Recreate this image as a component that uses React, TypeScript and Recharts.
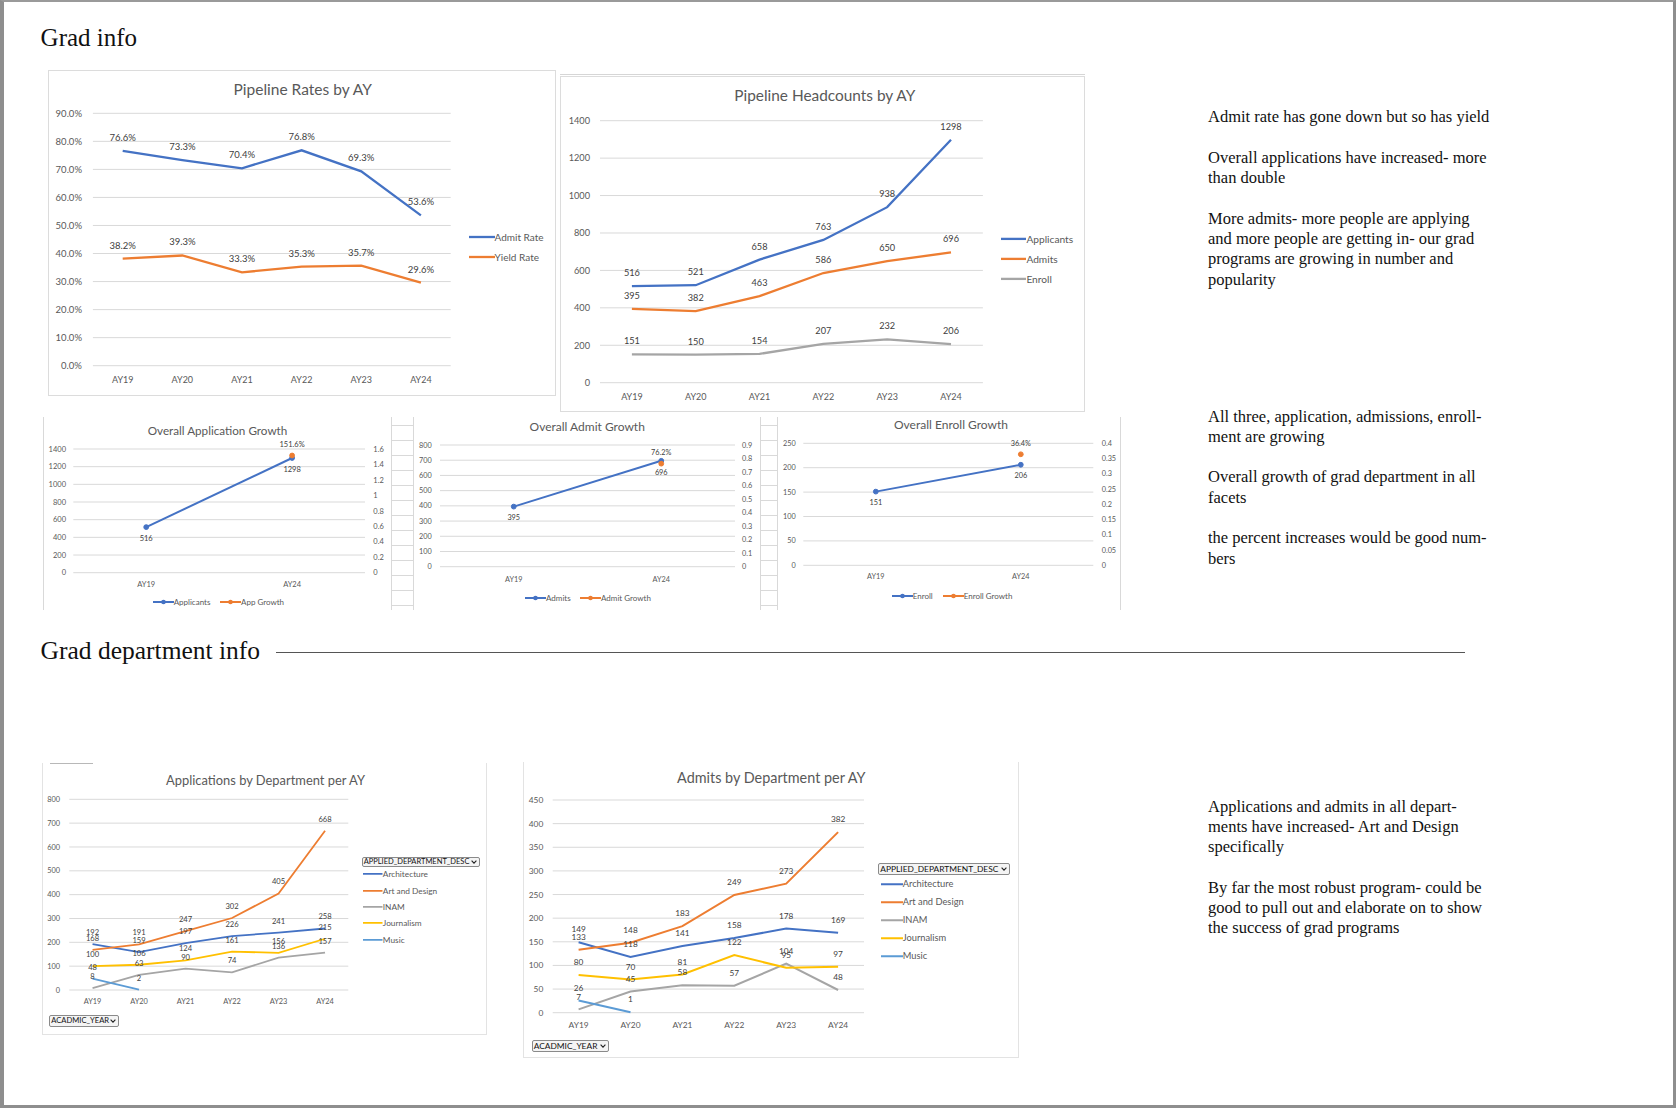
import React from "react";
import { CartesianGrid, LabelList, Line, LineChart, XAxis, YAxis } from "recharts";

const YEARS = ["AY19", "AY20", "AY21", "AY22", "AY23", "AY24"];

// pipeline rates, percent
const ADMIT_RATE = [76.6, 73.3, 70.4, 76.8, 69.3, 53.6];
const YIELD_RATE = [38.2, 39.3, 33.3, 35.3, 35.7, 29.6];
const RATE_TICKS = [0, 10, 20, 30, 40, 50, 60, 70, 80, 90];

// pipeline headcounts
const APPLICANTS = [516, 521, 658, 763, 938, 1298];
const ADMITS = [395, 382, 463, 586, 650, 696];
const ENROLL = [151, 150, 154, 207, 232, 206];
const HEADCOUNT_TICKS = [0, 200, 400, 600, 800, 1000, 1200, 1400];

// AY19 -> AY24 growth
const GROWTH_YEARS = ["AY19", "AY24"];
const APP_ENDS = [516, 1298];
const APP_GROWTH = [null, 1.516];
const APP_TICKS = [0, 200, 400, 600, 800, 1000, 1200, 1400];
const APP_GROWTH_TICKS = [0, 0.2, 0.4, 0.6, 0.8, 1, 1.2, 1.4, 1.6];
const ADMIT_ENDS = [395, 696];
const ADMIT_GROWTH = [null, 0.762];
const ADMIT_TICKS = [0, 100, 200, 300, 400, 500, 600, 700, 800];
const ADMIT_GROWTH_TICKS = [0, 0.1, 0.2, 0.3, 0.4, 0.5, 0.6, 0.7, 0.8, 0.9];
const ENROLL_ENDS = [151, 206];
const ENROLL_GROWTH = [null, 0.364];
const ENROLL_TICKS = [0, 50, 100, 150, 200, 250];
const ENROLL_GROWTH_TICKS = [0, 0.05, 0.1, 0.15, 0.2, 0.25, 0.3, 0.35, 0.4];

// by department
const DEPARTMENTS = ["Architecture", "Art and Design", "INAM", "Journalism", "Music"];
const APPS_ARCH = [192, 159, 197, 226, 241, 258];
const APPS_ART = [168, 191, 247, 302, 405, 668];
const APPS_INAM = [8, 63, 90, 74, 136, 157];
const APPS_JOURN = [100, 106, 124, 161, 156, 215];
const APPS_MUSIC = [48, 2, null, null, null, null];
const APPS_TICKS = [0, 100, 200, 300, 400, 500, 600, 700, 800];
const ADM_ARCH = [149, 118, 141, 158, 178, 169];
const ADM_ART = [133, 148, 183, 249, 273, 382];
const ADM_INAM = [7, 45, 58, 57, 104, 48];
const ADM_JOURN = [80, 70, 81, 122, 95, 97];
const ADM_MUSIC = [26, 1, null, null, null, null];
const ADM_TICKS = [0, 50, 100, 150, 200, 250, 300, 350, 400, 450];

const NOTES_TOP = [
  ["Admit rate has gone down but so has yield"],
  ["Overall applications have increased- more", "than double"],
  ["More admits- more people are applying", "and more people are getting in- our grad", "programs are growing in number and", "popularity"],
];
const NOTES_MID = [
  ["All three, application, admissions, enroll-", "ment are growing"],
  ["Overall growth of grad department in all", "facets"],
  ["the percent increases would be good num-", "bers"],
];
const NOTES_BOTTOM = [
  ["Applications and admits in all depart-", "ments have increased- Art and Design", "specifically"],
  ["By far the most robust program- could be", "good to pull out and elaborate on to show", "the success of grad programs"],
];

const SANS = "Lato, 'Open Sans', sans-serif";
const SERIF = "'Liberation Serif', 'DejaVu Serif', serif";
const TICK_FILL = "#595959";
const LABEL_FILL = "#404040";
const GRID = "#d9d9d9";
const BLUE = "#4472C4";
const ORANGE = "#ED7D31";
const GRAY = "#A5A5A5";
const GOLD = "#FFC000";
const LIGHT_BLUE = "#5B9BD5";
const DEPT_COLORS = [BLUE, ORANGE, GRAY, GOLD, LIGHT_BLUE];

const pct1 = (v: number) => `${v.toFixed(1)}%`;
const pctOf = (v: number) => `${(v * 100).toFixed(1)}%`;

function Title({ x, y, size, text }: any) {
  return (
    <div style={{ position: "absolute", left: x, top: y, transform: "translate(-50%, -50%)", fontFamily: SANS, fontSize: size, color: "#595959", whiteSpace: "nowrap", lineHeight: 1 }}>
      {text}
    </div>
  );
}

function LegendRow({ x, y, color, label, len, thick, size, dot }: any) {
  return (
    <div style={{ position: "absolute", left: x, top: y, transform: "translateY(-50%)", display: "flex", alignItems: "center", fontFamily: SANS, fontSize: size, color: "#595959", whiteSpace: "nowrap", lineHeight: 1 }}>
      <svg width={len} height={8} style={{ display: "block", flex: "none" }}>
        <line x1={0} x2={len} y1={4} y2={4} stroke={color} strokeWidth={thick} />
        {dot ? <circle cx={len / 2} cy={4} r={2.3} fill={color} /> : null}
      </svg>
      <span>{label}</span>
    </div>
  );
}

function Dropdown({ x, y, w, h, size, label }: any) {
  return (
    <div style={{ position: "absolute", left: x, top: y, width: w, height: h, boxSizing: "border-box", border: "1px solid #8a8a8a", borderRadius: 2, background: "#f4f4f4", display: "flex", alignItems: "center", justifyContent: "space-between", padding: "0 2px 0 1px", fontFamily: SANS, fontSize: size, color: "#111", lineHeight: 1, whiteSpace: "nowrap", overflow: "hidden" }}>
      <span>{label}</span>
      <svg width={6} height={4} style={{ flex: "none" }}>
        <path d="M0.6 0.6 L3 3.2 L5.4 0.6" fill="none" stroke="#222" strokeWidth={1.1} />
      </svg>
    </div>
  );
}

function Rule({ x, y, w, h, color }: any) {
  return <div style={{ position: "absolute", left: x, top: y, width: w, height: h, background: color }} />;
}

function Notes({ top, paras }: any) {
  return (
    <div style={{ position: "absolute", left: 1208, top, fontFamily: SERIF, fontSize: 16.5, lineHeight: "20.3px", color: "#111", whiteSpace: "nowrap" }}>
      {paras.map((lines: string[], i: number) => (
        <div key={i} style={{ marginBottom: 20.3 }}>
          {lines.map((l, k) => (
            <div key={k}>{l}</div>
          ))}
        </div>
      ))}
    </div>
  );
}

function RatesChart() {
  const data = YEARS.map((year, i) => ({ year, admit: ADMIT_RATE[i], yld: YIELD_RATE[i] }));
  return (
    <div style={{ position: "absolute", left: 48, top: 70, fontFamily: SANS }}>
      <LineChart width={508} height={326} data={data} margin={{ top: 43.3, right: 105.3, bottom: 0.3, left: 4.9 }}>
        <CartesianGrid vertical={false} stroke={GRID} />
        <XAxis dataKey="year" interval={0} axisLine={false} tickLine={false} tickSize={0} tickMargin={10.7} height={30} padding={{ left: 29.8, right: 29.8 }} tick={{ fontSize: 9, fill: TICK_FILL }} />
        <YAxis type="number" domain={[0, 90]} ticks={RATE_TICKS} interval={0} tickFormatter={pct1} axisLine={false} tickLine={false} tickSize={0} tickMargin={10.9} width={40} tick={{ fontSize: 9.5, fill: TICK_FILL }} />
        <Line dataKey="admit" stroke={BLUE} strokeWidth={2.3} dot={false} isAnimationActive={false}>
          <LabelList dataKey="admit" position="top" offset={10} formatter={pct1} fontSize={9.5} fill={LABEL_FILL} />
        </Line>
        <Line dataKey="yld" stroke={ORANGE} strokeWidth={2.3} dot={false} isAnimationActive={false}>
          <LabelList dataKey="yld" position="top" offset={10} formatter={pct1} fontSize={9.5} fill={LABEL_FILL} />
        </Line>
      </LineChart>
    </div>
  );
}

function HeadcountChart() {
  const data = YEARS.map((year, i) => ({ year, apps: APPLICANTS[i], admits: ADMITS[i], enroll: ENROLL[i] }));
  const series = [
    ["apps", BLUE],
    ["admits", ORANGE],
    ["enroll", GRAY],
  ];
  return (
    <div style={{ position: "absolute", left: 560, top: 76, fontFamily: SANS }}>
      <LineChart width={525} height={336} data={data} margin={{ top: 44.7, right: 102.1, bottom: 4.3, left: 4 }}>
        <CartesianGrid vertical={false} stroke={GRID} />
        <XAxis dataKey="year" interval={0} axisLine={false} tickLine={false} tickSize={0} tickMargin={11.3} height={25} padding={{ left: 31.9, right: 31.9 }} tick={{ fontSize: 9, fill: TICK_FILL }} />
        <YAxis type="number" domain={[0, 1400]} ticks={HEADCOUNT_TICKS} interval={0} axisLine={false} tickLine={false} tickSize={0} tickMargin={10} width={36} tick={{ fontSize: 9.2, fill: TICK_FILL }} />
        {series.map(([key, color]) => (
          <Line key={key} dataKey={key} stroke={color} strokeWidth={2.3} dot={false} isAnimationActive={false}>
            <LabelList dataKey={key} position="top" offset={10} fontSize={9.2} fill={LABEL_FILL} />
          </Line>
        ))}
      </LineChart>
    </div>
  );
}

function GrowthChart({ left, top, width, height, margin, leftW, rightW, leftTM, rightTM, xTM, pad, ends, growth, leftMax, leftTicks, rightMax, rightTicks, size }: any) {
  const data = GROWTH_YEARS.map((year, i) => ({ year, count: ends[i], growth: growth[i] }));
  return (
    <div style={{ position: "absolute", left, top, fontFamily: SANS }}>
      <LineChart width={width} height={height} data={data} margin={margin}>
        <CartesianGrid vertical={false} stroke={GRID} yAxisId="left" />
        <XAxis dataKey="year" interval={0} axisLine={false} tickLine={false} tickSize={0} tickMargin={xTM} height={20} padding={{ left: pad, right: pad }} tick={{ fontSize: size, fill: TICK_FILL }} />
        <YAxis yAxisId="left" type="number" domain={[0, leftMax]} ticks={leftTicks} interval={0} axisLine={false} tickLine={false} tickSize={0} tickMargin={leftTM} width={leftW} tick={{ fontSize: size, fill: TICK_FILL }} />
        <YAxis yAxisId="right" orientation="right" type="number" domain={[0, rightMax]} ticks={rightTicks} interval={0} axisLine={false} tickLine={false} tickSize={0} tickMargin={rightTM} width={rightW} tick={{ fontSize: size, fill: TICK_FILL }} />
        <Line yAxisId="left" dataKey="count" stroke={BLUE} strokeWidth={2} dot={{ r: 2.4, fill: BLUE, stroke: BLUE, strokeWidth: 1 }} isAnimationActive={false}>
          <LabelList dataKey="count" position="bottom" offset={8.5} fontSize={size} fill={LABEL_FILL} />
        </Line>
        <Line yAxisId="right" dataKey="growth" stroke={ORANGE} strokeWidth={2} dot={{ r: 2.4, fill: ORANGE, stroke: ORANGE, strokeWidth: 1 }} isAnimationActive={false}>
          <LabelList dataKey="growth" position="top" offset={8.5} formatter={pctOf} fontSize={size} fill={LABEL_FILL} />
        </Line>
      </LineChart>
    </div>
  );
}

function DeptChart({ left, top, width, height, margin, yW, yTM, xTM, pad, series, max, ticks, size, labelSize, offset, strokeW }: any) {
  const data = YEARS.map((year, i) => {
    const row: any = { year };
    series.forEach((s: any[], k: number) => {
      row["d" + k] = s[i];
    });
    return row;
  });
  return (
    <div style={{ position: "absolute", left, top, fontFamily: SANS }}>
      <LineChart width={width} height={height} data={data} margin={margin}>
        <CartesianGrid vertical={false} stroke={GRID} />
        <XAxis dataKey="year" interval={0} axisLine={false} tickLine={false} tickSize={0} tickMargin={xTM} height={20} padding={{ left: pad, right: pad }} tick={{ fontSize: size, fill: TICK_FILL }} />
        <YAxis type="number" domain={[0, max]} ticks={ticks} interval={0} axisLine={false} tickLine={false} tickSize={0} tickMargin={yTM} width={yW} tick={{ fontSize: size, fill: TICK_FILL }} />
        {series.map((_: any, k: number) => (
          <Line key={k} dataKey={"d" + k} stroke={DEPT_COLORS[k]} strokeWidth={strokeW} dot={false} isAnimationActive={false}>
            <LabelList dataKey={"d" + k} position="top" offset={offset} fontSize={labelSize} fill={LABEL_FILL} />
          </Line>
        ))}
      </LineChart>
    </div>
  );
}

function SheetCells({ x, w }: any) {
  const rows = [];
  for (let y = 425; y <= 606; y += 15) rows.push(y);
  return (
    <>
      <Rule x={x} y={417} w={1} h={193} color={GRID} />
      <Rule x={x + w} y={417} w={1} h={193} color={GRID} />
      {rows.map((y) => (
        <Rule key={y} x={x} y={y} w={w} h={1} color={GRID} />
      ))}
    </>
  );
}

export default function App() {
  return (
    <div style={{ position: "relative", width: 1676, height: 1108, background: "#fff", overflow: "hidden", fontFamily: SANS }}>
      <style>{"body{margin:0}"}</style>

      <div style={{ position: "absolute", left: 40.6, top: 36.7, transform: "translateY(-50%)", fontFamily: SERIF, fontSize: 25, lineHeight: 1, color: "#111", whiteSpace: "nowrap" }}>Grad info</div>
      <div style={{ position: "absolute", left: 40.6, top: 651, transform: "translateY(-50%)", fontFamily: SERIF, fontSize: 25.5, lineHeight: 1, color: "#111", whiteSpace: "nowrap" }}>Grad department info</div>
      <Rule x={276} y={651.5} w={1189} h={1} color="#555" />

      {/* frames */}
      <div style={{ position: "absolute", left: 48, top: 70, width: 508, height: 326, boxSizing: "border-box", border: "1px solid #dcdcdc" }} />
      <div style={{ position: "absolute", left: 560, top: 76, width: 525, height: 336, boxSizing: "border-box", border: "1px solid #dcdcdc" }} />
      <Rule x={560} y={73.5} w={525} h={1} color="#d6d6d6" />
      <Rule x={43} y={417} w={1} h={193} color={GRID} />
      <SheetCells x={390.7} w={22.6} />
      <SheetCells x={759.5} w={17} />
      <Rule x={1120} y={417} w={1} h={193} color={GRID} />
      <div style={{ position: "absolute", left: 42, top: 763, width: 445, height: 272, boxSizing: "border-box", borderLeft: "1px solid #e3e3e3", borderRight: "1px solid #e3e3e3", borderBottom: "1px solid #e3e3e3" }} />
      <Rule x={50} y={763} w={43} h={1} color="#b8b8b8" />
      <div style={{ position: "absolute", left: 523, top: 762, width: 496, height: 296, boxSizing: "border-box", borderLeft: "1px solid #e3e3e3", borderRight: "1px solid #e3e3e3", borderBottom: "1px solid #e3e3e3" }} />

      {/* Pipeline Rates */}
      <RatesChart />
      <Title x={302.7} y={90} size={15.5} text="Pipeline Rates by AY" />
      <LegendRow x={468.6} y={237.3} color={BLUE} label="Admit Rate" len={26} thick={2.3} size={10} />
      <LegendRow x={468.6} y={256.7} color={ORANGE} label="Yield Rate" len={26} thick={2.3} size={10} />

      {/* Pipeline Headcounts */}
      <HeadcountChart />
      <Title x={824.8} y={96} size={15.4} text="Pipeline Headcounts by AY" />
      <LegendRow x={1000.7} y={238.7} color={BLUE} label="Applicants" len={25.7} thick={2.3} size={10.2} />
      <LegendRow x={1000.7} y={258.7} color={ORANGE} label="Admits" len={25.7} thick={2.3} size={10.2} />
      <LegendRow x={1000.7} y={279.3} color={GRAY} label="Enroll" len={25.7} thick={2.3} size={10.2} />

      {/* Overall growth */}
      <GrowthChart left={44} top={417} width={347} height={193} margin={{ top: 32, right: 6, bottom: 17.3, left: 4.3 }} leftW={25} rightW={20} leftTM={7.3} rightTM={8.3} xTM={8.6} pad={72.9} ends={APP_ENDS} growth={APP_GROWTH} leftMax={1400} leftTicks={APP_TICKS} rightMax={1.6} rightTicks={APP_GROWTH_TICKS} size={7.5} />
      <Title x={217.5} y={430.7} size={11.7} text="Overall Application Growth" />
      <LegendRow x={152.7} y={602.3} color={BLUE} label="Applicants" len={21} thick={2} size={8} dot />
      <LegendRow x={220} y={602.3} color={ORANGE} label="App Growth" len={21} thick={2} size={8} dot />

      <GrowthChart left={414} top={417} width={345} height={193} margin={{ top: 28, right: 4, bottom: 23.3, left: 6 }} leftW={20} rightW={20} leftTM={8.3} rightTM={7} xTM={10} pad={73.75} ends={ADMIT_ENDS} growth={ADMIT_GROWTH} leftMax={800} leftTicks={ADMIT_TICKS} rightMax={0.9} rightTicks={ADMIT_GROWTH_TICKS} size={7.3} />
      <Title x={587.2} y={426.7} size={12} text="Overall Admit Growth" />
      <LegendRow x={525} y={597.7} color={BLUE} label="Admits" len={21} thick={2} size={8} dot />
      <LegendRow x={580} y={597.7} color={ORANGE} label="Admit Growth" len={21} thick={2} size={8} dot />

      <GrowthChart left={777} top={417} width={343} height={193} margin={{ top: 26.3, right: 4.7, bottom: 24.7, left: 6.3 }} leftW={20} rightW={22} leftTM={7.6} rightTM={8.4} xTM={8.8} pad={72.5} ends={ENROLL_ENDS} growth={ENROLL_GROWTH} leftMax={250} leftTicks={ENROLL_TICKS} rightMax={0.4} rightTicks={ENROLL_GROWTH_TICKS} size={7.3} />
      <Title x={951} y={425} size={12} text="Overall Enroll Growth" />
      <LegendRow x={891.7} y={595.7} color={BLUE} label="Enroll" len={21} thick={2} size={8} dot />
      <LegendRow x={942.7} y={595.7} color={ORANGE} label="Enroll Growth" len={21} thick={2} size={8} dot />

      {/* Applications by department */}
      <DeptChart left={42} top={763} width={445} height={272} margin={{ top: 36.3, right: 138.7, bottom: 25, left: 5.3 }} yW={22} yTM={9.3} xTM={9} pad={23.25} series={[APPS_ARCH, APPS_ART, APPS_INAM, APPS_JOURN, APPS_MUSIC]} max={800} ticks={APPS_TICKS} size={7.4} labelSize={7.6} offset={9} strokeW={1.8} />
      <Title x={265.5} y={780} size={12.9} text="Applications by Department per AY" />
      <Dropdown x={361.7} y={856.7} w={118.3} h={10.5} size={7.5} label="APPLIED_DEPARTMENT_DESC" />
      {DEPARTMENTS.map((d, i) => (
        <LegendRow key={d} x={363.3} y={874.3 + i * 16.35} color={DEPT_COLORS[i]} label={d} len={19.5} thick={1.8} size={8.3} />
      ))}
      <Dropdown x={49.3} y={1015} w={70} h={11.7} size={7.6} label="ACADMIC_YEAR" />

      {/* Admits by department */}
      <DeptChart left={523} top={762} width={496} height={296} margin={{ top: 38, right: 155, bottom: 25.3, left: 5.7 }} yW={24} yTM={9.4} xTM={9.5} pad={25.9} series={[ADM_ARCH, ADM_ART, ADM_INAM, ADM_JOURN, ADM_MUSIC]} max={450} ticks={ADM_TICKS} size={8.4} labelSize={8.3} offset={9.8} strokeW={2} />
      <Title x={771.3} y={778.3} size={14.4} text="Admits by Department per AY" />
      <Dropdown x={878.3} y={863.3} w={131.7} h={11.7} size={8.4} label="APPLIED_DEPARTMENT_DESC" />
      {DEPARTMENTS.map((d, i) => (
        <LegendRow key={d} x={880.7} y={884 + i * 18.07} color={DEPT_COLORS[i]} label={d} len={22} thick={2} size={9.3} />
      ))}
      <Dropdown x={531.7} y={1040} w={77.6} h={11.7} size={8.4} label="ACADMIC_YEAR" />

      {/* notes */}
      <Notes top={107.2} paras={NOTES_TOP} />
      <Notes top={406.5} paras={NOTES_MID} />
      <Notes top={796.7} paras={NOTES_BOTTOM} />

      {/* page edge */}
      <div style={{ position: "absolute", left: 0, top: 0, width: 1676, height: 1108, boxSizing: "border-box", borderLeft: "4px solid #8e8e8e", borderTop: "2px solid #9a9a9a", borderRight: "3px solid #8e8e8e", borderBottom: "3px solid #8e8e8e", pointerEvents: "none" }} />
    </div>
  );
}
